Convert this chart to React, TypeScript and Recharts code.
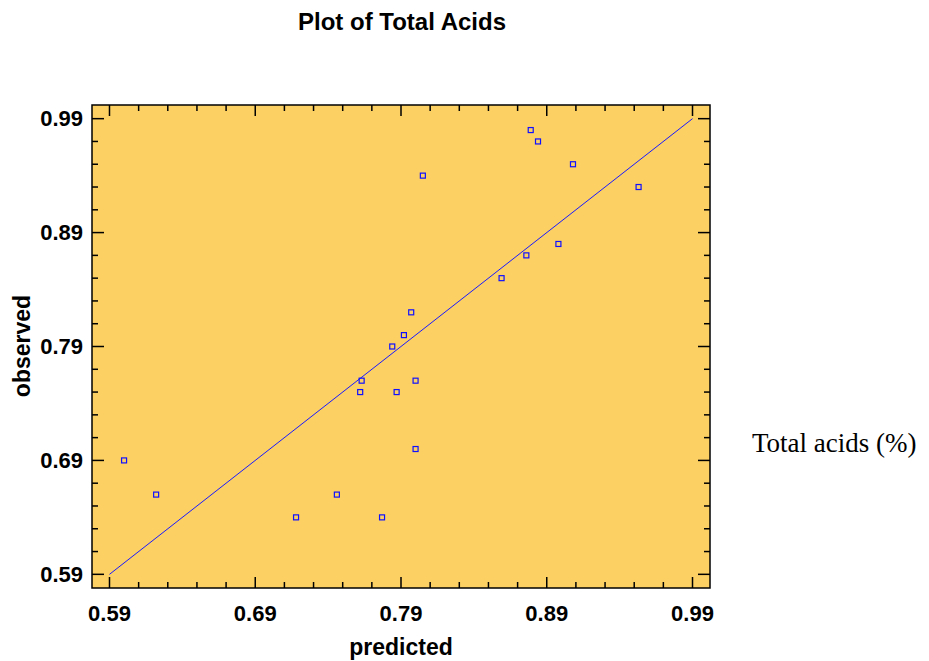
import {
  ReferenceArea,
  ReferenceLine,
  Scatter,
  ScatterChart,
  XAxis,
  YAxis,
} from "recharts";

const predicted = [
  0.6, 0.622, 0.718, 0.746, 0.777, 0.8, 0.797, 0.792, 0.784, 0.763, 0.762,
  0.8, 0.787, 0.879, 0.884, 0.908, 0.953, 0.898, 0.876, 0.859, 0.805,
];
const observed = [
  0.69, 0.66, 0.64, 0.66, 0.64, 0.7, 0.82, 0.8, 0.79, 0.76, 0.75, 0.76, 0.75,
  0.98, 0.97, 0.95, 0.93, 0.88, 0.87, 0.85, 0.94,
];
const fitLine = [
  { x: 0.59, y: 0.59 },
  { x: 0.99, y: 0.99 },
];
const axisTicks = [
  0.59, 0.61, 0.63, 0.65, 0.67, 0.69, 0.71, 0.73, 0.75, 0.77, 0.79, 0.81,
  0.83, 0.85, 0.87, 0.89, 0.91, 0.93, 0.95, 0.97, 0.99,
];
const labelledTicks = ["0.59", "0.69", "0.79", "0.89", "0.99"];
const domain: [number, number] = [0.578, 1.002];

const points = predicted.map((p, i) => ({ x: p, y: observed[i] }));

// plot box in px
const LEFT = 92;
const TOP = 105;
const RIGHT = 710;
const BOTTOM = 588;

const font = "'Liberation Sans', Arial, sans-serif";

const XTick = (props: any) => {
  const { x, payload } = props;
  const label = payload.value.toFixed(2);
  const major = labelledTicks.includes(label);
  const len = major ? 11 : 6;
  return (
    <g>
      <line x1={x} x2={x} y1={BOTTOM} y2={BOTTOM - len} stroke="#000" strokeWidth={1.5} />
      <line x1={x} x2={x} y1={TOP} y2={TOP + len} stroke="#000" strokeWidth={1.5} />
      {major && (
        <text x={x} y={613} textAnchor="middle" dominantBaseline="central" fontFamily={font} fontWeight="bold" fontSize={22} fill="#000">
          {label}
        </text>
      )}
    </g>
  );
};

const YTick = (props: any) => {
  const { y, payload } = props;
  const label = payload.value.toFixed(2);
  const major = labelledTicks.includes(label);
  const len = major ? 12 : 6;
  return (
    <g>
      <line x1={LEFT} x2={LEFT + len} y1={y} y2={y} stroke="#000" strokeWidth={1.5} />
      <line x1={RIGHT} x2={RIGHT - len} y1={y} y2={y} stroke="#000" strokeWidth={1.5} />
      {major && (
        <text x={83} y={y} textAnchor="end" dominantBaseline="central" fontFamily={font} fontWeight="bold" fontSize={22} fill="#000">
          {label}
        </text>
      )}
    </g>
  );
};

const Square = (props: any) => {
  const { cx, cy } = props;
  return <rect x={cx - 2.5} y={cy - 2.5} width={5} height={5} fill="none" stroke="#1010ff" strokeWidth={1.2} />;
};

export default function App() {
  return (
    <div style={{ position: "absolute", left: 0, top: 0, width: 929, height: 661, background: "#fff" }}>
      <div
        style={{
          position: "absolute",
          left: 0,
          width: 804,
          top: 8,
          lineHeight: "28px",
          textAlign: "center",
          fontFamily: font,
          fontWeight: "bold",
          fontSize: 24,
        }}
      >
        Plot of Total Acids
      </div>
      <div
        style={{
          position: "absolute",
          left: 752,
          top: 427,
          lineHeight: "32px",
          fontFamily: "'Liberation Serif', 'Times New Roman', serif",
          fontSize: 27,
          whiteSpace: "nowrap",
        }}
      >
        Total acids (%)
      </div>
      <ScatterChart width={929} height={661} margin={{ top: 105, right: 219, bottom: 23, left: 32 }}>
        <ReferenceArea x1={domain[0]} x2={domain[1]} y1={domain[0]} y2={domain[1]} fill="#fcd063" fillOpacity={1} stroke="#000" strokeWidth={1.5} />
        <XAxis
          type="number"
          dataKey="x"
          domain={domain}
          ticks={axisTicks}
          interval={0}
          height={50}
          axisLine={false}
          tickLine={false}
          tickSize={0}
          tick={<XTick />}
          allowDataOverflow
          label={{
            content: () => (
              <text x={401} y={647} textAnchor="middle" dominantBaseline="central" fontFamily={font} fontWeight="bold" fontSize={23} fill="#000">
                predicted
              </text>
            ),
          }}
        />
        <YAxis
          type="number"
          dataKey="y"
          domain={domain}
          ticks={axisTicks}
          interval={0}
          width={60}
          axisLine={false}
          tickLine={false}
          tickSize={0}
          tick={<YTick />}
          allowDataOverflow
          label={{
            content: () => (
              <text x={22} y={346} transform="rotate(-90 22 346)" textAnchor="middle" dominantBaseline="central" fontFamily={font} fontWeight="bold" fontSize={23} fill="#000">
                observed
              </text>
            ),
          }}
        />
        <ReferenceLine segment={fitLine} stroke="#1a1aff" strokeWidth={1} />
        <Scatter data={points} shape={<Square />} isAnimationActive={false} />
      </ScatterChart>
    </div>
  );
}
